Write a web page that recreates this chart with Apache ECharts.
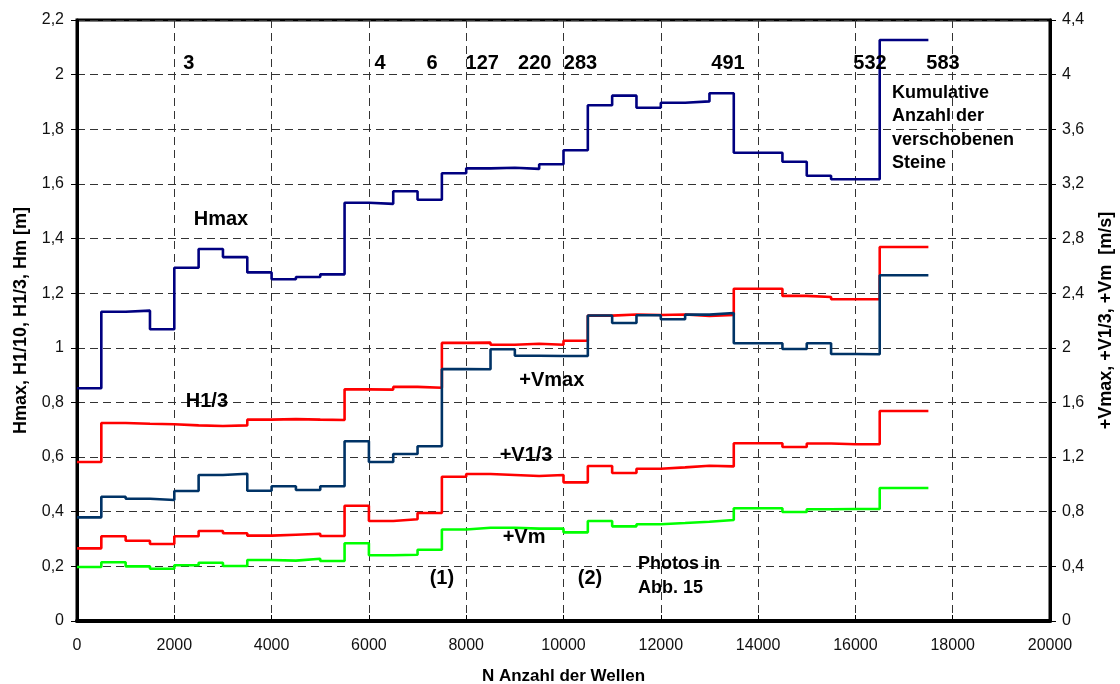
<!DOCTYPE html>
<html>
<head>
<meta charset="utf-8">
<script src="https://cdn.jsdelivr.net/npm/echarts@6/dist/echarts.min.js"></script>
<style>
html,body{margin:0;padding:0;background:#fff;}
#chart{width:1120px;height:684px;}
</style>
</head>
<body>
<div id="chart"></div>
<script>
// Segment edges (N waves) – each value holds from edge[i] to edge[i+1]
var waveEdges = [0,500,1000,1500,2000,2500,3000,3500,4000,4500,5000,5500,6000,6500,7000,7500,8000,8500,9000,9500,10000,10500,11000,11500,12000,12500,13000,13500,14000,14500,15000,15500,16000,16500,17000,17500];

// Left axis [m]
var hmax = [0.852,1.132,1.136,1.068,1.293,1.362,1.332,1.276,1.251,1.259,1.269,1.531,1.527,1.573,1.542,1.639,1.657,1.659,1.655,1.672,1.723,1.888,1.923,1.879,1.897,1.902,1.932,1.714,1.714,1.681,1.630,1.617,1.617,2.127,2.127];
var h13 = [0.582,0.725,0.722,0.720,0.716,0.714,0.716,0.737,0.739,0.737,0.736,0.848,0.847,0.857,0.854,1.018,1.019,1.011,1.015,1.011,1.026,1.118,1.122,1.120,1.122,1.117,1.120,1.216,1.216,1.190,1.186,1.178,1.178,1.369,1.369];

// Right axis [m/s]
var vmax = [0.759,0.910,0.895,0.886,0.952,1.069,1.078,0.954,0.986,0.959,0.986,1.316,1.164,1.223,1.279,1.844,1.843,1.989,1.942,1.940,1.940,2.237,2.182,2.238,2.209,2.243,2.255,2.033,2.033,1.991,2.033,1.955,1.953,2.531,2.531];
var v13 = [0.532,0.620,0.588,0.564,0.620,0.659,0.642,0.625,0.632,0.639,0.622,0.844,0.732,0.745,0.791,1.056,1.076,1.069,1.062,1.069,1.015,1.135,1.084,1.115,1.125,1.137,1.132,1.301,1.301,1.274,1.299,1.294,1.294,1.537,1.537];
var vm = [0.395,0.430,0.400,0.383,0.408,0.427,0.403,0.447,0.442,0.456,0.439,0.569,0.481,0.485,0.522,0.670,0.683,0.683,0.676,0.676,0.649,0.732,0.693,0.708,0.717,0.727,0.739,0.825,0.825,0.798,0.818,0.820,0.820,0.974,0.974];

// Cumulative number of displaced stones (annotation text and position in data units)
var stoneCounts = ['3','4','6','127','220','283','491','532','583'];
var stoneX = [2300,6230,7300,8330,9410,10350,13380,16300,17800];
var stoneY = 2.04;

// Text labels in the plot (left-axis data units)
var textLabels = [
  {text:'Hmax', x:2960, y:1.468, size:20, align:'center'},
  {text:'H1/3', x:2670, y:0.802, size:20, align:'center'},
  {text:'+Vmax', x:9760, y:0.879, size:20, align:'center'},
  {text:'+V1/3', x:9230, y:0.607, size:20, align:'center'},
  {text:'+Vm', x:9190, y:0.304, size:20, align:'center'},
  {text:'(1)', x:7500, y:0.157, size:20, align:'center'},
  {text:'(2)', x:10545, y:0.157, size:20, align:'center'},
  {text:'Photos in\nAbb. 15', x:11530, y:0.166, size:18, align:'left', lh:24},
  {text:'Kumulative\nAnzahl der\nverschobenen\nSteine', x:16752, y:1.805, size:18, align:'left', lh:23.5}
];

var xTicks = {min:0, max:20000, interval:2000};
var leftTicks = {min:0, max:2.2, interval:0.2};
var rightTicks = {min:0, max:4.4, interval:0.4};

function steps(vals){
  var d = [];
  for (var i = 0; i < vals.length; i++) d.push([waveEdges[i], vals[i]]);
  d.push([waveEdges[vals.length], vals[vals.length-1]]);
  return d;
}
function fmt(v){
  return String(parseFloat(v.toFixed(2))).replace('.', ',');
}

var FONT = '"Liberation Sans", Arial, sans-serif';
var gridDash = {show:true, lineStyle:{color:'#333', width:1, type:[8,5]}};

function lineSeries(name, vals, color, yIdx){
  return {
    name:name, type:'line', step:'end', xAxisIndex:0, yAxisIndex:yIdx,
    data:steps(vals), symbol:'none', silent:true,
    lineStyle:{color:color, width:2.6}, z:3
  };
}

var annot = [];
for (var i = 0; i < stoneCounts.length; i++) {
  annot.push({value:[stoneX[i], stoneY], label:{formatter:stoneCounts[i], fontSize:20, align:'center', color:'#000'}});
}
textLabels.forEach(function(t){
  annot.push({value:[t.x, t.y], label:{formatter:t.text, fontSize:t.size, align:t.align, color:'#000', lineHeight:t.lh || t.size+4}});
});

var chart = echarts.init(document.getElementById('chart'));
chart.setOption({
  animation:false,
  backgroundColor:'#fff',
  grid:{left:77, right:70, top:20, bottom:63, outerBoundsMode:'none', containLabel:false,
        show:true, borderColor:'#000', borderWidth:3, backgroundColor:'transparent'},
  xAxis:{
    type:'value', min:xTicks.min, max:xTicks.max, interval:xTicks.interval,
    name:'N Anzahl der Wellen', nameLocation:'middle', nameGap:47,
    nameTextStyle:{fontFamily:FONT, fontSize:17, fontWeight:'bold', color:'#000'},
    axisLine:{show:true, onZero:false, lineStyle:{color:'#000', width:4}},
    axisTick:{show:true, inside:true, length:6, lineStyle:{color:'#000', width:1}},
    axisLabel:{fontFamily:FONT, fontSize:16, color:'#111', margin:17, formatter:function(v){return String(v);}},
    splitLine:gridDash
  },
  yAxis:[{
    type:'value', position:'left', min:leftTicks.min, max:leftTicks.max, interval:leftTicks.interval,
    name:'Hmax, H1/10, H1/3, Hm [m]', nameLocation:'middle', nameGap:47, nameRotate:90,
    nameTextStyle:{fontFamily:FONT, fontSize:18, fontWeight:'bold', color:'#000'},
    axisLine:{show:true, lineStyle:{color:'#000', width:3}},
    axisTick:{show:true, inside:false, length:6, lineStyle:{color:'#000', width:1}},
    axisLabel:{fontFamily:FONT, fontSize:16, color:'#111', margin:13, formatter:fmt},
    splitLine:gridDash
  },{
    type:'value', position:'right', min:rightTicks.min, max:rightTicks.max, interval:rightTicks.interval,
    name:'+Vmax, +V1/3, +Vm  [m/s]', nameLocation:'middle', nameGap:47, nameRotate:90,
    nameTextStyle:{fontFamily:FONT, fontSize:18, fontWeight:'bold', color:'#000'},
    axisLine:{show:true, lineStyle:{color:'#000', width:3}},
    axisTick:{show:true, inside:false, length:6, lineStyle:{color:'#000', width:1}},
    axisLabel:{fontFamily:FONT, fontSize:16, color:'#111', margin:12, formatter:fmt},
    splitLine:{show:false}
  }],
  series:[
    lineSeries('Hmax', hmax, '#000080', 0),
    lineSeries('H1/3', h13, '#ff0000', 0),
    lineSeries('+V1/3', v13, '#ff0000', 1),
    lineSeries('+Vm', vm, '#00ff00', 1),
    lineSeries('+Vmax', vmax, '#003366', 1),
    {
      type:'scatter', xAxisIndex:0, yAxisIndex:0, symbolSize:0, silent:true, z:5,
      itemStyle:{opacity:1},
      data:annot,
      label:{show:true, position:'inside', verticalAlign:'middle', color:'#000', opacity:1,
             fontFamily:FONT, fontWeight:'bold'}
    }
  ]
});
</script>
</body>
</html>
